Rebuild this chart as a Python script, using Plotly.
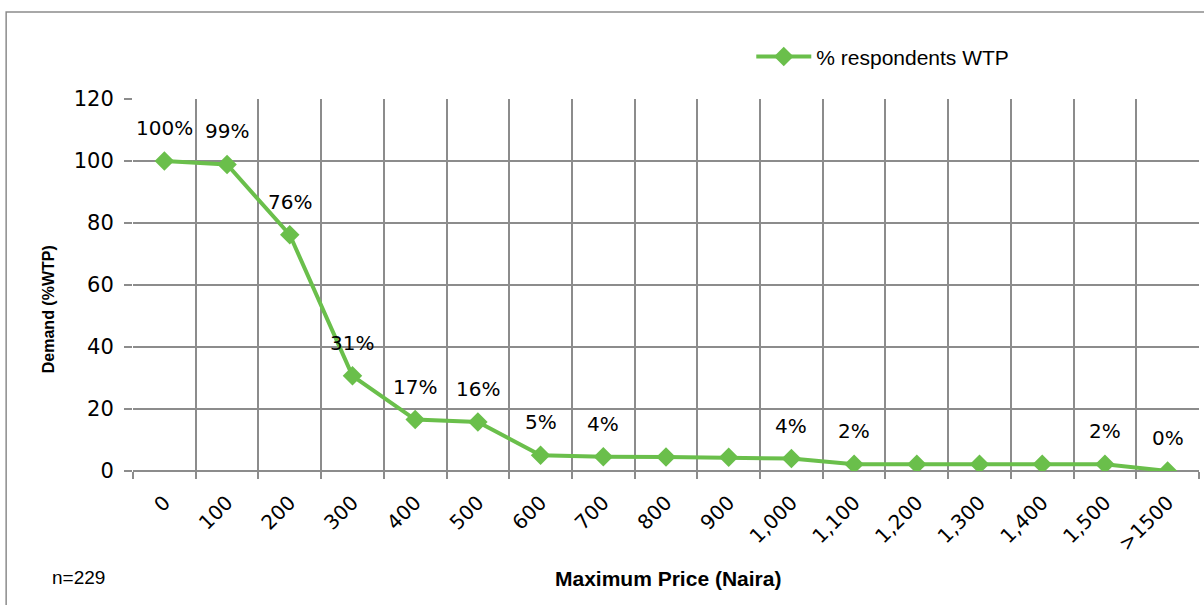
import plotly.graph_objects as go

categories = ["0", "100", "200", "300", "400", "500", "600", "700", "800", "900",
              "1,000", "1,100", "1,200", "1,300", "1,400", "1,500", ">1500"]
wtp = [100, 98.9, 76.2, 30.7, 16.6, 15.8, 5.1, 4.6, 4.5, 4.4, 4.0, 2.2, 2.2, 2.2, 2.2, 2.2, 0]
point_labels = ["100%", "99%", "76%", "31%", "17%", "16%", "5%", "4%", "", "",
                "4%", "2%", "", "", "", "2%", "0%"]

GREEN = "#6abf4b"
GRID = "#8c8c8c"
FONT = "Liberation Sans"
NUMFONT = "DejaVu Sans"

fig = go.Figure()
fig.add_trace(go.Scatter(
    x=categories, y=wtp, mode="lines+markers", name="% respondents WTP",
    line=dict(color=GREEN, width=4),
    marker=dict(symbol="diamond", size=15, color=GREEN),
))

annotations = []
for i, (v, t) in enumerate(zip(wtp, point_labels)):
    if t:
        annotations.append(dict(x=i, y=v, xref="x", yref="y", text=t, showarrow=False, yshift=33,
                                font=dict(family=NUMFONT, size=20, color="black")))

annotations += [
    dict(xref="paper", yref="paper", x=0.502, y=-0.288, yanchor="middle", text="Maximum Price (Naira)",
         showarrow=False, font=dict(family=FONT, size=21, color="black", weight="bold")),
    dict(xref="paper", yref="paper", x=-0.0797, y=0.435, xanchor="center", yanchor="middle",
         text="Demand (%WTP)", textangle=-90,
         showarrow=False, font=dict(family=FONT, size=16, color="black", weight="bold")),
    dict(xref="paper", yref="paper", x=-0.0779, y=-0.285, text="n=229", xanchor="left", yanchor="middle",
         showarrow=False, font=dict(family=FONT, size=19, color="black")),
]

fig.update_layout(
    width=1204, height=605,
    margin=dict(l=133, r=5, t=99, b=134),
    paper_bgcolor="white", plot_bgcolor="white",
    showlegend=True,
    legend=dict(x=0.58, y=1.113, xanchor="left", yanchor="middle",
                font=dict(family=FONT, size=21, color="black"),
                itemwidth=55, bgcolor="rgba(0,0,0,0)"),
    annotations=annotations,
    shapes=[dict(type="rect", xref="paper", yref="paper", x0=-0.119, y0=-0.45, x1=1.05, y1=1.234,
                 line=dict(color="#8c8c8c", width=1.5), fillcolor="rgba(0,0,0,0)", layer="below")],
)
fig.update_xaxes(
    type="category", range=[-0.5, 16.5], tickson="boundaries",
    showgrid=True, gridcolor=GRID, gridwidth=1.5,
    ticks="outside", ticklen=7, tickcolor=GRID, tickwidth=1.5,
    tickangle=-45, tickfont=dict(family=NUMFONT, size=20, color="black"),
    ticklabelstandoff=15,
    showline=False, zeroline=False,
)
fig.update_yaxes(
    range=[0, 120], dtick=20, showgrid=True, gridcolor=GRID, gridwidth=1.5,
    ticks="outside", ticklen=8, tickcolor=GRID, tickwidth=1.5,
    tickfont=dict(family=NUMFONT, size=21, color="black"),
    ticklabelstandoff=6,
    showline=False, zeroline=True, zerolinecolor=GRID, zerolinewidth=1.5,
)

fig.write_html("out.html")
